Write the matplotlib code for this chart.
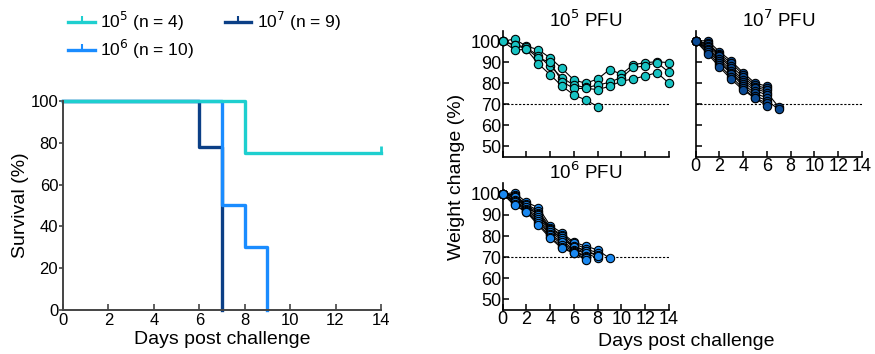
import numpy as np
import matplotlib
matplotlib.use("Agg")
import matplotlib.pyplot as plt
from matplotlib.lines import Line2D

plt.rcParams['font.family'] = ['Liberation Sans', 'DejaVu Sans']

# ----------------------------
# DATA
# ----------------------------
c_1e5 = "#1ecfcf"
c_1e6 = "#1a8cff"
c_1e7 = "#0b3f86"
pt_1e5 = "#17c2c2"
pt_1e6 = "#1a88f0"
pt_1e7 = "#0a4a94"

# Kaplan-Meier survival (%)
surv_days_1e5 = [0, 8, 14]
surv_1e5 = [100, 75, 75]
surv_days_1e6 = [0, 7, 8, 9]
surv_1e6 = [100, 50, 30, 0]
surv_days_1e7 = [0, 6, 7]
surv_1e7 = [100, 77.8, 0]

legend_labels = [r"10$^5$ (n = 4)", r"10$^6$ (n = 10)", r"10$^7$ (n = 9)"]

# body weight (% of day 0), one list per mouse, starting day 0
weight_1e5 = [
    [100, 101, 97.6, 96, 92, 87, 81.5, 80, 82, 86.5, 84.3, 88.8, 89.8, 90.2, 89.8],
    [100, 98.4, 97, 93, 88, 82.7, 79, 78, 79, 80.5, 82.7, 87.5, 88.2, 89.8, 85.2],
    [100, 98, 96.5, 92, 90, 80.7, 77.5, 77.5, 77, 78.5, 81, 82, 83.5, 85, 80],
    [100, 95.8, 96.1, 89.3, 84, 78.6, 74.4, 72, 68.9],
]

weight_1e6 = [
    [100, 100.5, 96, 93.5, 85, 81.5, 77, 75.3, 73.4, 69.5],
    [100, 99.5, 95, 92, 84, 80.5, 76.5, 74, 72],
    [100, 99, 94.5, 91, 83.5, 80, 75.3, 73, 71],
    [100, 98, 93.5, 90.5, 82.5, 79, 74.5, 72, 69.5],
    [100, 98.5, 94, 90, 83, 79, 75, 73, 70.5],
    [100, 97, 93, 89, 82, 78, 73.5, 71.9],
    [100, 96.5, 92.5, 88, 81, 77, 73, 70.5],
    [100, 96, 92, 87, 80.5, 76, 72.5, 70.3],
    [100, 95, 91.5, 86, 79.5, 75, 72, 69.5],
    [100, 94.5, 91.4, 85.1, 79, 74.2, 71.9, 68.7],
]

weight_1e7 = [
    [100, 100.3, 95, 90.5, 85, 80, 78.6],
    [100, 99, 94, 89.5, 84, 79, 77.5],
    [100, 98.5, 93.5, 88, 83, 78, 76.7],
    [100, 97.8, 92.8, 87, 81.5, 77.5, 75.5, 68.6],
    [100, 97, 91.5, 86, 80.5, 76.5, 74.4],
    [100, 96.5, 90.5, 85, 79.5, 75.2, 73],
    [100, 95.9, 89.6, 84.6, 78.6, 74, 71.7, 67.5],
    [100, 95, 88.5, 83, 77.5, 73, 70.5],
    [100, 94, 87.7, 81.8, 76.7, 72.8, 69.2],
]

day_ticks = [0, 2, 4, 6, 8, 10, 12, 14]
weight_ticks = [50, 60, 70, 80, 90, 100]

# ----------------------------
# FIGURE
# ----------------------------
fig = plt.figure(figsize=(8.75, 3.54), dpi=100)

# survival panel
ax_s = fig.add_axes([0.072, 0.1243, 0.3634, 0.5904])
ax_s.plot(surv_days_1e7, surv_1e7, drawstyle='steps-post', color=c_1e7, lw=2.4, clip_on=False)
ax_s.plot(surv_days_1e6, surv_1e6, drawstyle='steps-post', color=c_1e6, lw=2.4, clip_on=False)
ax_s.plot(surv_days_1e5, surv_1e5, drawstyle='steps-post', color=c_1e5, lw=2.4, clip_on=False)
ax_s.plot(surv_days_1e5[-1], surv_1e5[-1], marker=2, ms=5, mew=2, color=c_1e5, clip_on=False)

ax_s.set_xlim(0, 14)
ax_s.set_ylim(0, 100)
ax_s.set_xticks(day_ticks)
ax_s.set_yticks([0, 20, 40, 60, 80, 100])
for s in ['top', 'right']:
    ax_s.spines[s].set_visible(False)
for s in ['left', 'bottom']:
    ax_s.spines[s].set_color('#444444')
    ax_s.spines[s].set_linewidth(1.4)
ax_s.tick_params(axis='x', direction='in', length=4, width=1.2, color='#444444', labelsize=12, pad=2.5)
ax_s.tick_params(axis='y', direction='out', length=3, width=1.2, color='#444444', labelsize=12, pad=0.5)
ax_s.set_xlabel("Days post challenge", fontsize=14, labelpad=2)
ax_s.set_ylabel("Survival (%)", fontsize=14, labelpad=1)

handles = [
    Line2D([], [], color=c_1e5, lw=2.4, marker=2, ms=4, mew=1.5),
    Line2D([], [], color=c_1e6, lw=2.4, marker=2, ms=4, mew=1.5),
    Line2D([], [], color=c_1e7, lw=2.4, marker=2, ms=4, mew=1.5),
]
fig.legend(handles, legend_labels, loc='upper left', bbox_to_anchor=(0.060, 1.017),
           ncol=2, frameon=False, fontsize=12.5, handlelength=1.55, handletextpad=0.3,
           columnspacing=1.75, labelspacing=0.3, numpoints=1)


def weight_panel(ax, mice, face, title, show_xlabels, show_ylabels, title_pad):
    for w in mice:
        days = np.arange(len(w))
        ax.plot(days, w, color='black', lw=0.8, marker='o', ms=6,
                mfc=face, mec='black', mew=0.8, clip_on=False, zorder=3)
    ax.axhline(70, color='black', lw=0.8, ls=(0, (2, 1.5)), zorder=1)
    ax.set_xlim(0, 14)
    ax.set_ylim(45, 105)
    ax.set_xticks(day_ticks)
    ax.set_yticks(weight_ticks)
    for s in ['top', 'right']:
        ax.spines[s].set_visible(False)
    for s in ['left', 'bottom']:
        ax.spines[s].set_linewidth(1.2)
    ax.tick_params(axis='both', direction='in', length=4, width=1.1, labelsize=13, pad=1)
    if not show_xlabels:
        ax.set_xticklabels([])
    if not show_ylabels:
        ax.set_yticklabels([])
    ax.set_title(title, fontsize=13.5, pad=title_pad)


ax_a = fig.add_axes([0.5745, 0.5573, 0.19, 0.356])
weight_panel(ax_a, weight_1e5, pt_1e5, r"10$^5$ PFU", False, True, 3)

ax_c = fig.add_axes([0.7951, 0.5573, 0.19, 0.356])
weight_panel(ax_c, weight_1e7, pt_1e7, r"10$^7$ PFU", True, False, 3)

ax_b = fig.add_axes([0.5745, 0.1243, 0.19, 0.358])
weight_panel(ax_b, weight_1e6, pt_1e6, r"10$^6$ PFU", True, True, 1)

fig.text(0.522, 0.50, "Weight change (%)", rotation=90, ha='center', va='center', fontsize=14)
fig.text(0.784, 0.035, "Days post challenge", ha='center', va='center', fontsize=14)

plt.savefig("out.png", dpi=100)
